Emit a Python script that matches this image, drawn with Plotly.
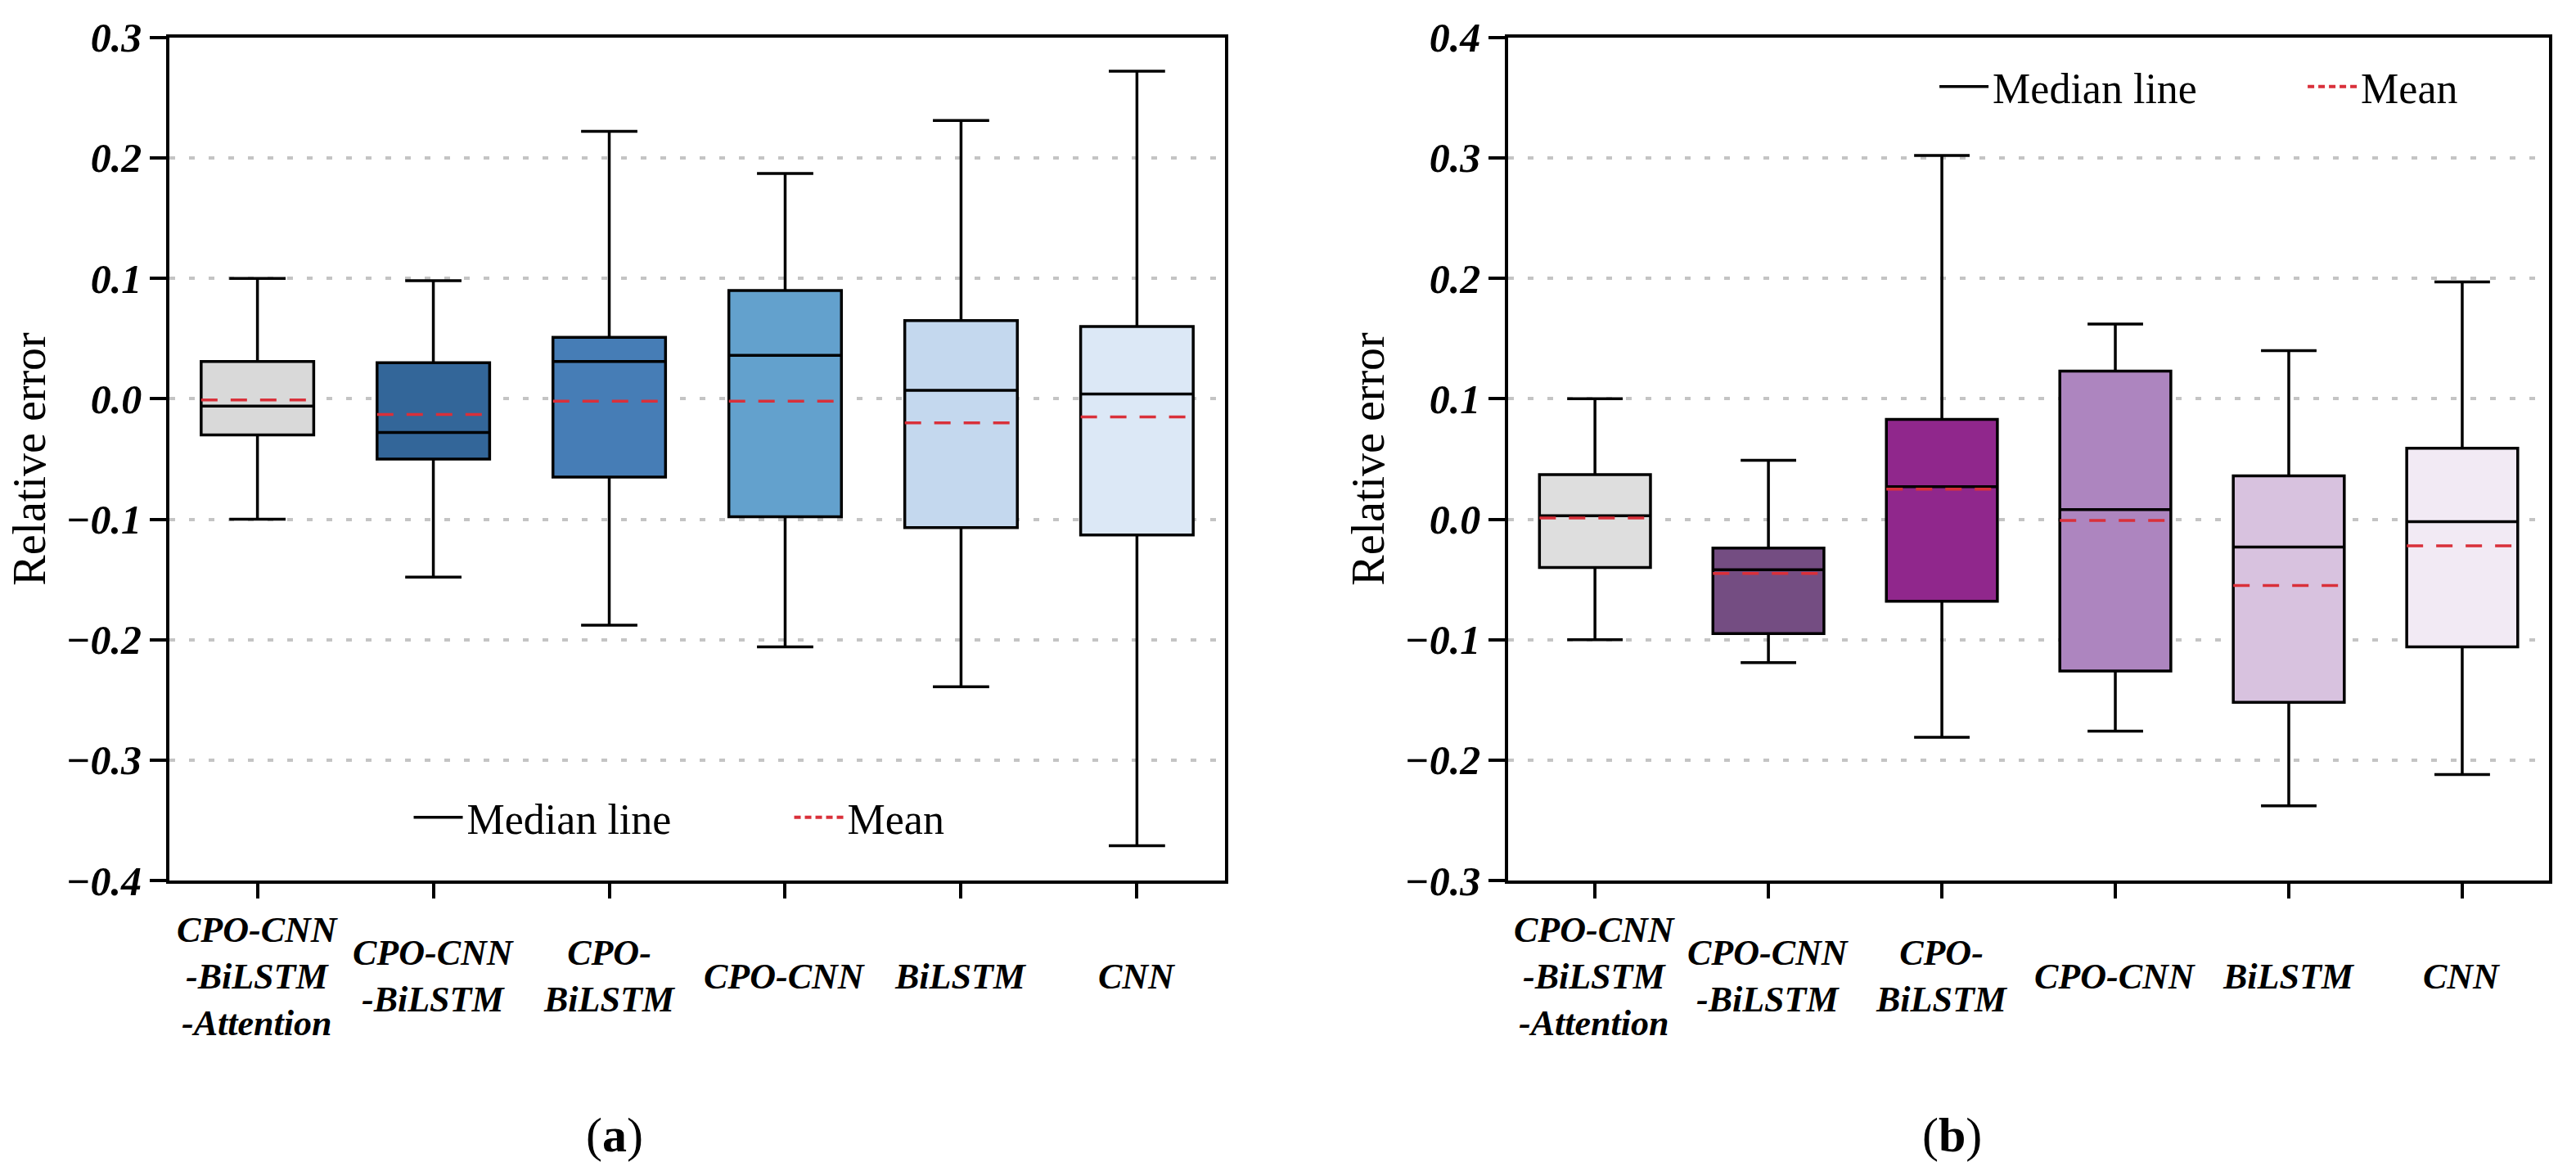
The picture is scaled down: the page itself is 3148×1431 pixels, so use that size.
import plotly.graph_objects as go

# ---------------- data ----------------
categories = ["CPO-CNN-BiLSTM-Attention", "CPO-CNN-BiLSTM", "CPO-BiLSTM",
              "CPO-CNN", "BiLSTM", "CNN"]
tick_labels = ["CPO-CNN<br>-BiLSTM<br>-Attention", "CPO-CNN<br>-BiLSTM",
               "CPO-<br>BiLSTM", "CPO-CNN", "BiLSTM", "CNN"]

# panel (a)
a_upper = [0.100, 0.098, 0.222, 0.187, 0.231, 0.272]
a_q3 = [0.031, 0.030, 0.051, 0.090, 0.065, 0.060]
a_median = [-0.006, -0.028, 0.031, 0.036, 0.007, 0.004]
a_mean = [-0.001, -0.013, -0.002, -0.002, -0.020, -0.015]
a_q1 = [-0.030, -0.050, -0.065, -0.098, -0.107, -0.113]
a_lower = [-0.100, -0.148, -0.188, -0.206, -0.239, -0.371]
a_colors = ["#d9d9d9", "#336699", "#467db6", "#63a1cd", "#c4d8ee", "#dce8f6"]

# panel (b)
b_upper = [0.100, 0.049, 0.302, 0.162, 0.140, 0.197]
b_q3 = [0.037, -0.024, 0.083, 0.123, 0.036, 0.059]
b_median = [0.003, -0.042, 0.027, 0.008, -0.023, -0.002]
b_mean = [0.001, -0.045, 0.025, -0.001, -0.055, -0.022]
b_q1 = [-0.040, -0.095, -0.068, -0.126, -0.152, -0.106]
b_lower = [-0.100, -0.119, -0.181, -0.176, -0.238, -0.212]
b_colors = ["#dedede", "#744d82", "#90278c", "#ad85bf", "#d8c2df", "#f2eaf4"]

a_yticks = [0.3, 0.2, 0.1, 0.0, -0.1, -0.2, -0.3, -0.4]
b_yticks = [0.4, 0.3, 0.2, 0.1, 0.0, -0.1, -0.2, -0.3]

# ---------------- style ----------------
SERIF = "Liberation Serif"
BOX_W = 0.64
MEAN_RED = "#d9303a"

fig = go.Figure()


def add_panel(xa, ya, upper, q3, med, mean, q1, lower, colors, legend):
    for i, cat in enumerate(categories):
        fig.add_trace(go.Box(
            x=[i], q1=[q1[i]], median=[med[i]], q3=[q3[i]],
            lowerfence=[lower[i]], upperfence=[upper[i]],
            width=BOX_W, whiskerwidth=0.5, boxpoints=False,
            fillcolor=colors[i], line=dict(color="black", width=3.5),
            name=cat, showlegend=False, xaxis=xa, yaxis=ya,
        ))
    mx, my = [], []
    for i, m in enumerate(mean):
        mx += [i - BOX_W / 2, i + BOX_W / 2, None]
        my += [m, m, None]
    fig.add_trace(go.Scatter(
        x=mx, y=my, mode="lines", xaxis=xa, yaxis=ya, showlegend=False,
        line=dict(color=MEAN_RED, width=3.5, dash="20px,16px"), hoverinfo="skip",
    ))
    fig.add_trace(go.Scatter(
        x=[None], y=[None], mode="lines", name="Median line", legend=legend,
        line=dict(color="black", width=3.5), xaxis=xa, yaxis=ya,
    ))
    fig.add_trace(go.Scatter(
        x=[None], y=[None], mode="lines", name="Mean", legend=legend,
        line=dict(color=MEAN_RED, width=4, dash="8px,5px"), xaxis=xa, yaxis=ya,
    ))


add_panel("x", "y", a_upper, a_q3, a_median, a_mean, a_q1, a_lower, a_colors, "legend")
add_panel("x2", "y2", b_upper, b_q3, b_median, b_mean, b_q1, b_lower, b_colors, "legend2")

tickfont = dict(family=SERIF, size=50, color="black", weight="bold", style="italic")
common_x = dict(
    range=[-0.5, 5.5], tickvals=list(range(len(categories))), showticklabels=False,
    ticks="outside", ticklen=18, tickwidth=3.5, tickcolor="black",
    showline=True, linecolor="black", linewidth=4, mirror=True,
    showgrid=False, zeroline=False,
)
common_y = dict(
    ticks="outside", ticklen=20, tickwidth=4, tickcolor="black",
    showline=True, linecolor="black", linewidth=4, mirror=True,
    showgrid=True, gridcolor="#c4c4c4", gridwidth=3.5, griddash="7px,17px",
    zeroline=False, tickformat=".1f", tickfont=tickfont,
    title=dict(text="Relative error", font=dict(family=SERIF, size=56, color="black"),
               standoff=8),
)

legend_font = dict(family=SERIF, size=52, color="black")
ydom = [0.248, 0.968]
fig.update_layout(
    width=3148, height=1431,
    margin=dict(l=0, r=0, t=0, b=0, autoexpand=False),
    paper_bgcolor="white", plot_bgcolor="white",
    xaxis=dict(domain=[0.0658, 0.4755], **common_x),
    xaxis2=dict(domain=[0.5855, 0.9895], anchor="y2", **common_x),
    yaxis=dict(domain=ydom, range=[-0.4, 0.3], tickvals=a_yticks, anchor="x", **common_y),
    yaxis2=dict(domain=ydom, range=[-0.3, 0.4], tickvals=b_yticks, anchor="x2", **common_y),
    legend=dict(orientation="h", x=0.159, xanchor="left", y=0.302, yanchor="middle",
                font=legend_font, bgcolor="rgba(0,0,0,0)", itemwidth=60,
                entrywidth=390, entrywidthmode="pixels"),
    legend2=dict(orientation="h", x=0.7513, xanchor="left", y=0.926, yanchor="middle",
                 font=legend_font, bgcolor="rgba(0,0,0,0)", itemwidth=60,
                 entrywidth=375, entrywidthmode="pixels"),
    showlegend=True,
)

# category labels under each panel (vertically centred like the original)
lab_font = dict(family=SERIF, size=44, color="black", weight="bold", style="italic")
for xref in ["x", "x2"]:
    for i, lab in enumerate(tick_labels):
        fig.add_annotation(x=i, y=0.166, xref=xref, yref="paper", text=lab,
                           showarrow=False, xanchor="center", yanchor="middle",
                           align="center", font=lab_font)

panel_font = dict(family=SERIF, size=60, color="black")
fig.add_annotation(x=0.2386, y=0.031, xref="paper", yref="paper", text="(<b>a</b>)",
                   showarrow=False, xanchor="center", yanchor="middle", font=panel_font)
fig.add_annotation(x=0.7577, y=0.031, xref="paper", yref="paper", text="(<b>b</b>)",
                   showarrow=False, xanchor="center", yanchor="middle", font=panel_font)

fig.write_html("out.html", config={"displayModeBar": False},
               post_script="document.body.style.margin='0';")
